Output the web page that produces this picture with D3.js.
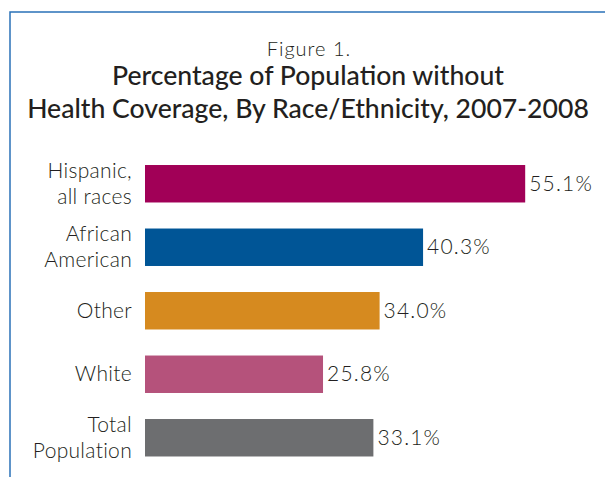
<!DOCTYPE html>
<html>
<head>
<meta charset="utf-8">
<script src="https://cdn.jsdelivr.net/npm/d3@7"></script>
<style>
  body { margin: 0; background: #fff; }
  svg { display: block; font-family: Lato, "Noto Sans", sans-serif; }
</style>
</head>
<body>
<svg id="chart"></svg>
<script>
const categories = ["Hispanic,\nall races", "African\nAmerican", "Other", "White", "Total\nPopulation"];
const values = [55.1, 40.3, 34.0, 25.8, 33.1];
const colors = ["#a10057", "#005596", "#d68a1f", "#b5527b", "#6d6e70"];
const titleLines = ["Percentage of Population without", "Health Coverage, By Race/Ethnicity, 2007-2008"];

const width = 605, height = 477;
const svg = d3.select("#chart").attr("width", width).attr("height", height);

// frame
svg.append("path")
    .attr("d", `M10,${height} L10,12 L${width},12`)
    .attr("fill", "none")
    .attr("stroke", "#2a72b8")
    .attr("stroke-width", 1.5);

svg.append("text")
    .attr("x", 309).attr("y", 56)
    .attr("text-anchor", "middle")
    .attr("font-size", 20)
    .attr("font-weight", 300)
    .attr("letter-spacing", 1)
    .attr("fill", "#231f20")
    .text("Figure 1.");

svg.selectAll("text.title")
    .data(titleLines)
    .enter()
    .append("text")
    .attr("class", "title")
    .attr("x", 308)
    .attr("y", (d, i) => 85 + i * 33)
    .attr("text-anchor", "middle")
    .attr("font-size", 26.6)
    .attr("font-weight", 500)
    .attr("fill", "#231f20")
    .text(d => d);

const x = d3.scaleLinear()
    .domain([0, 60])
    .range([145, 559]);

const y = d3.scaleBand()
    .domain(categories)
    .range([152, 469.5])
    .paddingInner(0.41)
    .paddingOuter(0.205);

svg.selectAll("rect.bar")
    .data(values)
    .enter()
    .append("rect")
    .attr("class", "bar")
    .attr("x", x(0))
    .attr("y", (d, i) => y(categories[i]))
    .attr("width", d => x(d) - x(0))
    .attr("height", y.bandwidth())
    .attr("fill", (d, i) => colors[i]);

svg.selectAll("text.value")
    .data(values)
    .enter()
    .append("text")
    .attr("class", "value")
    .attr("x", d => x(d) + 4)
    .attr("y", (d, i) => y(categories[i]) + y.bandwidth() / 2 + 7)
    .attr("font-size", 21)
    .attr("font-weight", 300)
    .attr("letter-spacing", 1.2)
    .attr("fill", "#231f20")
    .text(d => d.toFixed(1) + "%");

const labels = svg.selectAll("text.cat")
    .data(categories)
    .enter()
    .append("text")
    .attr("class", "cat")
    .attr("text-anchor", "end")
    .attr("font-size", 21)
    .attr("font-weight", 300)
    .attr("letter-spacing", 0.3)
    .attr("fill", "#231f20");

labels.each(function(d) {
    const lines = d.split("\n");
    const mid = y(d) + y.bandwidth() / 2;
    const first = mid + 7 - (lines.length - 1) * 13;
    d3.select(this).selectAll("tspan")
        .data(lines)
        .enter()
        .append("tspan")
        .attr("x", 132)
        .attr("y", (l, i) => first + i * 26)
        .text(l => l);
});
</script>
</body>
</html>
